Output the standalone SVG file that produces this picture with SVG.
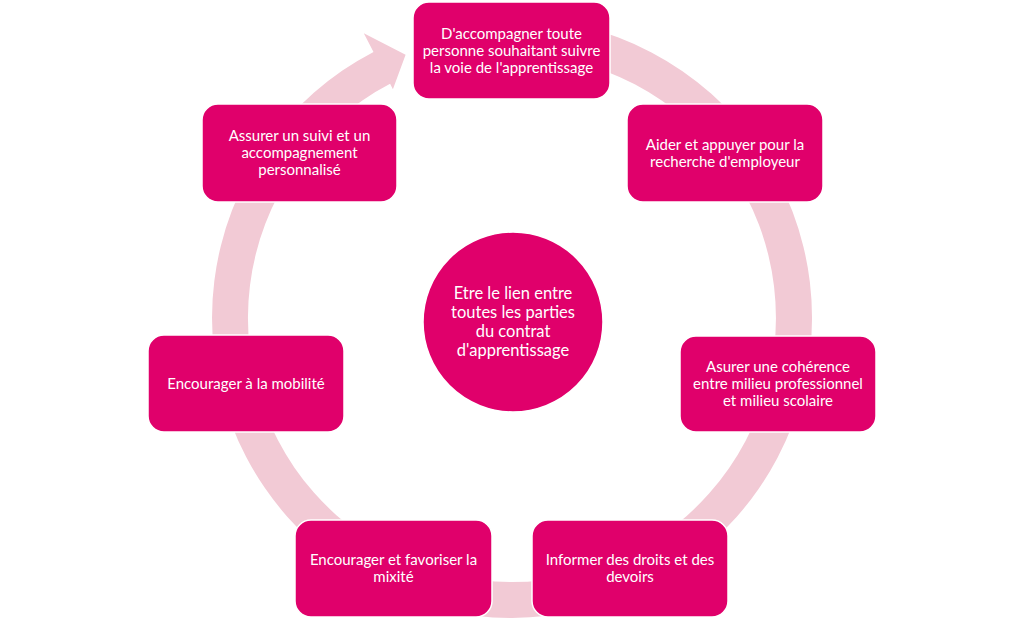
<svg xmlns="http://www.w3.org/2000/svg" width="1024" height="619" viewBox="0 0 1024 619">
<style>
.node{fill:#E0006B;stroke:#FFFFFF;stroke-width:1.5}
.ring{fill:#F2CAD5;stroke:none}
text{font-family:Lato,"Liberation Sans",sans-serif;fill:#FFFFFF;text-anchor:middle}
.t{font-size:15px}
.c{font-size:16.5px}
</style>
<rect width="1024" height="619" fill="#FFFFFF"/>
<g id="connectors">
<path class="ring" d="M512,18 A300,300 0 1 1 373.5,51.9 L363.8,33.3 L405.6,54.7 L392.9,89.2 L390.1,83.8 A264,264 0 1 0 512,54 Z"/>
</g>
<g id="center">
<circle class="node" cx="513" cy="322" r="90" stroke="none"/>
<text class="c" x="513" y="299">Etre le lien entre</text>
<text class="c" x="513" y="318">toutes les parties</text>
<text class="c" x="513" y="337">du contrat</text>
<text class="c" x="513" y="356">d'apprentissage</text>
</g>
<g id="node1">
<rect class="node" x="413" y="2" width="197" height="97" rx="16"/>
<text class="t" x="511.5" y="38.5">D'accompagner toute</text>
<text class="t" x="511.5" y="55.5">personne souhaitant suivre</text>
<text class="t" x="511.5" y="72.5">la voie de l'apprentissage</text>
</g>
<g id="node2">
<rect class="node" x="627" y="104" width="196" height="98" rx="16"/>
<text class="t" x="725" y="150">Aider et appuyer pour la</text>
<text class="t" x="725" y="167">recherche d'employeur</text>
</g>
<g id="node3">
<rect class="node" x="680" y="336" width="196" height="96" rx="16"/>
<text class="t" x="778" y="372">Asurer une cohérence</text>
<text class="t" x="778" y="389">entre milieu professionnel</text>
<text class="t" x="778" y="406">et milieu scolaire</text>
</g>
<g id="node4">
<rect class="node" x="532" y="520" width="196" height="97" rx="16"/>
<text class="t" x="630" y="565">Informer des droits et des</text>
<text class="t" x="630" y="582">devoirs</text>
</g>
<g id="node5">
<rect class="node" x="295" y="520" width="197" height="97" rx="16"/>
<text class="t" x="393.5" y="565">Encourager et favoriser la</text>
<text class="t" x="393.5" y="582">mixité</text>
</g>
<g id="node6">
<rect class="node" x="148" y="335" width="196" height="97" rx="16"/>
<text class="t" x="246" y="388.5">Encourager à la mobilité</text>
</g>
<g id="node7">
<rect class="node" x="202" y="104" width="195" height="98" rx="16"/>
<text class="t" x="299.5" y="141">Assurer un suivi et un</text>
<text class="t" x="299.5" y="158">accompagnement</text>
<text class="t" x="299.5" y="175">personnalisé</text>
</g>
</svg>
